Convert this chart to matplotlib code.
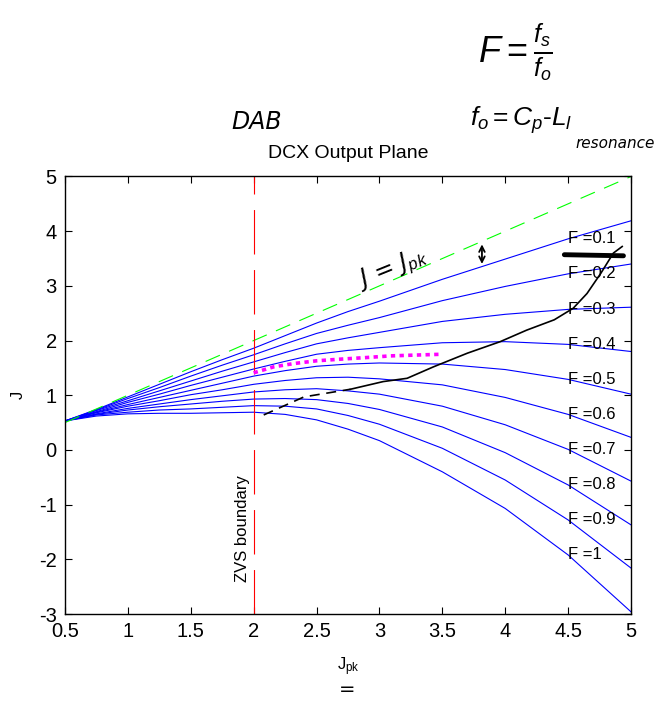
import numpy as np
import matplotlib
matplotlib.use('Agg')
import matplotlib.pyplot as plt

plt.rcParams['font.family'] = ['Liberation Sans', 'DejaVu Sans']
plt.rcParams['mathtext.fontset'] = 'custom'
plt.rcParams['mathtext.rm'] = 'Liberation Sans'
plt.rcParams['mathtext.it'] = 'Liberation Sans:italic'
plt.rcParams['axes.unicode_minus'] = False

# normalised peak current grid and switching frequency ratios
jpk = [0.5, 0.75, 1.0, 1.25, 1.5, 1.75, 2.0, 2.25, 2.5, 2.75, 3.0, 3.5, 4.0, 4.5, 5.0]
f_ratio = [0.1, 0.2, 0.3, 0.4, 0.5, 0.6, 0.7, 0.8, 0.9, 1]

# output current J for each F (one row per F, sampled on jpk)
j_out = [
    [0.53, 0.74, 0.97, 1.20, 1.43, 1.65, 1.86, 2.09, 2.32, 2.53, 2.72, 3.12, 3.49, 3.86, 4.19],
    [0.53, 0.73, 0.94, 1.14, 1.35, 1.55, 1.74, 1.94, 2.13, 2.28, 2.42, 2.73, 2.99, 3.22, 3.40],
    [0.53, 0.72, 0.90, 1.08, 1.26, 1.44, 1.61, 1.78, 1.94, 2.05, 2.15, 2.35, 2.48, 2.57, 2.61],
    [0.53, 0.70, 0.87, 1.02, 1.18, 1.33, 1.48, 1.62, 1.75, 1.82, 1.87, 1.96, 1.98, 1.93, 1.80],
    [0.53, 0.69, 0.83, 0.96, 1.09, 1.22, 1.35, 1.45, 1.53, 1.57, 1.59, 1.57, 1.47, 1.29, 1.02],
    [0.53, 0.68, 0.80, 0.90, 1.01, 1.10, 1.20, 1.27, 1.32, 1.33, 1.30, 1.19, 0.96, 0.65, 0.23],
    [0.53, 0.66, 0.76, 0.84, 0.92, 0.99, 1.06, 1.10, 1.12, 1.08, 1.02, 0.80, 0.46, 0.01, -0.57],
    [0.53, 0.65, 0.73, 0.79, 0.84, 0.89, 0.93, 0.94, 0.92, 0.85, 0.74, 0.42, -0.05, -0.64, -1.37],
    [0.53, 0.64, 0.69, 0.73, 0.75, 0.78, 0.81, 0.80, 0.75, 0.63, 0.47, 0.03, -0.55, -1.28, -2.16],
    [0.53, 0.62, 0.66, 0.67, 0.67, 0.68, 0.69, 0.65, 0.55, 0.38, 0.17, -0.40, -1.07, -1.92, -2.96],
]
label_at = 4.5
zvs_jpk = 2.0

# hand-drawn annotations on top of the plot
ink_dash_x = [2.08, 2.40, 2.77]
ink_dash_y = [0.64, 0.97, 1.11]
ink_x = [2.77, 3.03, 3.22, 3.43, 3.70, 3.96, 4.17, 4.39, 4.54, 4.65, 4.76, 4.86, 4.93]
ink_y = [1.11, 1.25, 1.31, 1.52, 1.77, 1.98, 2.19, 2.38, 2.59, 2.86, 3.23, 3.60, 3.72]
mark_x = [4.47, 4.94]
mark_y = [3.57, 3.55]
pink_x = [2.0, 2.16, 2.32, 2.50, 2.69, 2.90, 3.09, 3.50]
pink_y = [1.41, 1.52, 1.58, 1.63, 1.66, 1.69, 1.72, 1.75]

W, H = 662, 701
fig = plt.figure(figsize=(W / 100, H / 100), dpi=100)
ax = fig.add_axes([65 / W, 1 - 614 / H, 566 / W, 437.5 / H])

for row in j_out:
    ax.plot(jpk, row, color='b', lw=0.8)

ax.plot([jpk[0], jpk[-1]], [jpk[0], jpk[-1]], color=(0, 1, 0), lw=0.8, dashes=(14, 9))
ax.axvline(zvs_jpk, color='r', lw=0.8, dashes=(40, 14))

for f, row in zip(f_ratio, j_out):
    yv = row[jpk.index(label_at)]
    ax.text(label_at, yv, 'F =%g' % f, fontsize=12, ha='left', va='center')

ax.text(zvs_jpk - 0.03, -1.44, 'ZVS boundary', rotation=90, fontsize=12,
        ha='right', va='center')

# ink
ax.plot(ink_dash_x, ink_dash_y, color='k', lw=1.2, dashes=(6, 4))
ax.plot(ink_x, ink_y, color='k', lw=1.2)
ax.plot(mark_x, mark_y, color='k', lw=3.5, solid_capstyle='round')
ax.plot(pink_x, pink_y, color=(1, 0, 1), lw=2.6, dashes=(1.2, 1.2))
ax.annotate('', xy=(3.815, 3.35), xytext=(3.815, 3.81),
            arrowprops=dict(arrowstyle='<->', color='k', lw=1.3))
ax.text(3.1, 3.3, r'J = J$_{pk}$', rotation=22, fontsize=17, style='italic',
        ha='center', va='center', family='DejaVu Sans')

ax.set_xlim(0.5, 5)
ax.set_ylim(-3, 5)
ax.set_xticks(np.arange(0.5, 5.01, 0.5))
ax.set_xticklabels(['0.5', '1', '1.5', '2', '2.5', '3', '3.5', '4', '4.5', '5'])
ax.set_yticks(range(-3, 6))
ax.tick_params(direction='in', length=5, width=0.8, top=True, right=True,
               labelsize=14.5, pad=6)
for s in ax.spines.values():
    s.set_linewidth(1.0)

ax.set_title('DCX Output Plane', fontsize=14, pad=13)
ax.set_xlabel(r'J$_{\mathrm{pk}}$', fontsize=12)
ax.xaxis.set_label_coords(0.5, -0.095)
ax.set_ylabel('J', fontsize=12)
ax.yaxis.set_label_coords(-0.07, 0.5)

# notes written above the axes
fig.text(257 / W, 1 - 122 / H, 'DAB', fontsize=17, ha='center', va='center',
         family='DejaVu Sans', style='italic')
fig.text(515 / W, 1 - 52 / H, r'$F = \frac{f_s}{f_o}$', fontsize=26,
         ha='center', va='center')
fig.text(470 / W, 1 - 120 / H, r'$f_o = C_p$-$L_l$', fontsize=19,
         ha='left', va='center')
fig.text(575 / W, 1 - 143 / H, 'resonance', fontsize=11, ha='left',
         va='center', style='italic', family='DejaVu Sans')
fig.text(347 / W, 1 - 689 / H, '=', fontsize=14, ha='center', va='center',
         family='DejaVu Sans')

fig.savefig('out.png', dpi=100)
